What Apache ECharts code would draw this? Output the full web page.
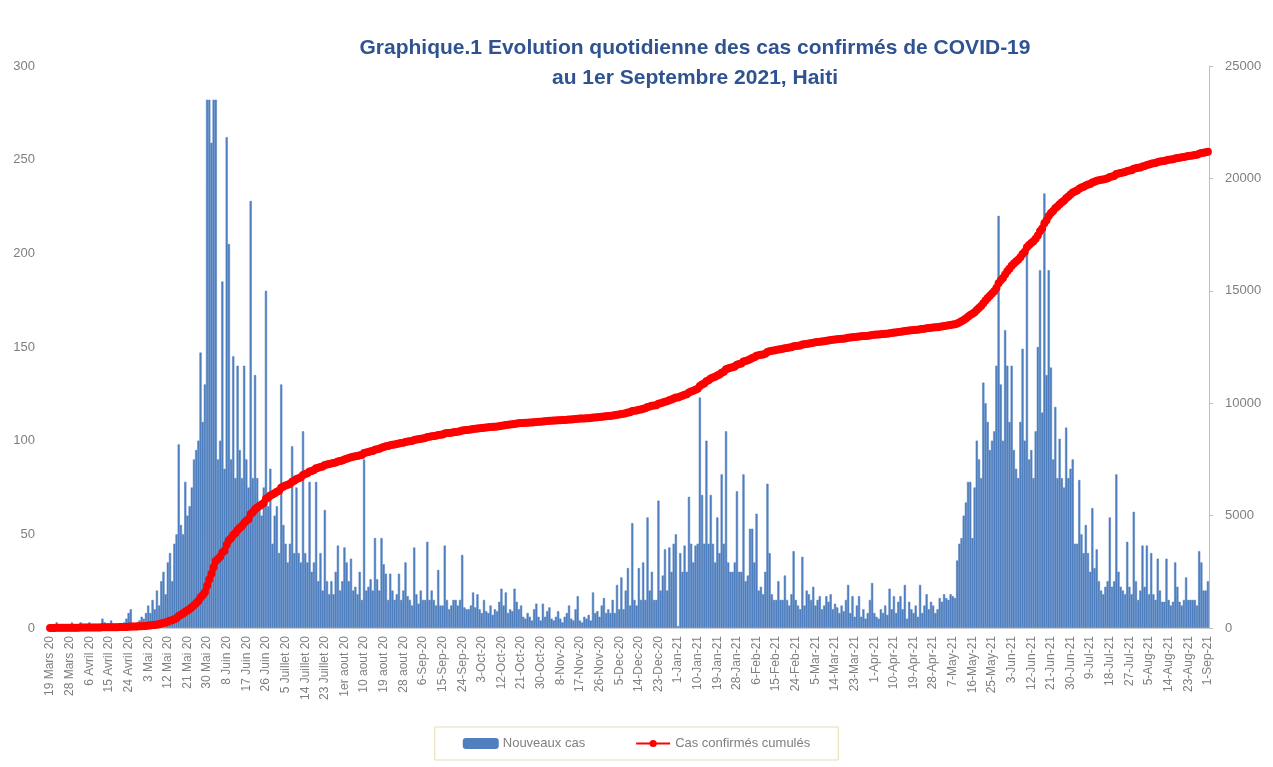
<!DOCTYPE html>
<html><head><meta charset="utf-8">
<script src="https://cdn.jsdelivr.net/npm/echarts@6/dist/echarts.min.js"></script>
<style>html,body{margin:0;padding:0;background:#fff}#c{width:1273px;height:767px}</style>
</head><body><div id="c"></div>
<script>
// Nouveaux cas (daily new confirmed cases), month by month
const mar20 = [2,0,1,3,0,1,0,1,0,0,3,2,2];
const apr20 = [0,3,0,1,0,3,0,0,1,2,0,5,3,0,0,4,1,0,0,2,0,3,5,8,10,0,2,3,4,6];
const may20 = [5,8,12,8,15,10,20,12,25,30,18,35,40,25,45,50,98,55,50,78,60,65,75,90,95,100,147,110,130,282,282];
const jun20 = [259,282,282,90,100,185,85,262,205,90,145,80,140,95,80,140,90,75,228,80,135,80,65,60,75,180,65,85,45,60];
const jul20 = [65,40,130,55,45,35,45,97,40,75,40,35,105,40,35,78,30,35,78,25,40,20,63,25,18,25,18,30,44,20,25];
const aug20 = [43,35,25,37,20,22,18,30,15,90,20,22,26,20,48,26,20,48,34,29,15,29,20,15,18,29,15,20,35,17,15];
const sep20 = [12,43,18,13,20,15,15,46,15,20,15,12,31,12,12,44,15,10,12,15,15,12,15,39,11,10,10,12,19,11];
const oct20 = [18,10,8,15,9,8,12,7,10,9,14,21,12,19,8,10,9,21,14,10,12,6,5,8,6,4,10,13,6,4,13];
const nov20 = [6,9,11,5,4,6,9,5,3,6,8,12,5,4,10,17,4,3,6,5,7,4,19,8,9,6,12,16,8,10];
const dec20 = [8,15,8,23,10,27,10,20,32,12,56,15,12,32,15,35,15,59,20,30,15,15,68,20,28,42,20,43,30,45,50];
const jan21 = [1,40,30,44,30,70,45,35,44,45,123,71,45,100,45,71,45,35,59,40,82,45,105,35,30,30,35,73,30,30,82];
const feb21 = [25,28,53,53,35,61,20,22,18,30,77,40,18,15,15,25,15,15,28,15,12,18,41,15,12,10,38,12];
const mar21 = [20,18,15,22,12,15,17,10,12,17,14,18,10,13,11,8,12,9,15,23,8,17,6,12,17,6,10,5,8,15,24];
const apr21 = [8,6,5,10,8,12,7,21,10,17,8,14,17,10,23,5,14,10,8,12,6,23,8,12,18,10,14,12,8,10];
const may21 = [16,14,18,16,15,18,17,16,36,45,48,60,67,78,78,48,75,100,90,80,131,120,110,95,100,105,140,220,130,100,159];
const jun21 = [140,110,140,95,85,80,110,149,100,204,90,95,80,105,150,191,115,232,135,191,139,90,118,80,101,80,75,107,80,85];
const jul21 = [90,45,45,79,50,40,55,40,30,64,32,42,25,20,18,22,25,59,22,25,82,30,22,20,18,46,22,18,62,25,15];
const aug21 = [20,44,22,44,18,40,18,15,37,20,14,14,37,15,12,14,35,22,14,12,15,27,15,15,15,15,12,41,35,20,20];
const sep21 = [25];

// x-axis tick labels (every 9th day)
const tickLabels = ['19 Mars 20','28 Mars 20','6 Avril 20','15 Avril 20','24 Avril 20','3 Mai 20','12 Mai 20','21 Mai 20','30 Mai 20','8 Juin 20','17 Juin 20','26 Juin 20','5 Juillet 20','14 Juillet 20','23 Juillet 20','1er aout 20','10 aout 20','19 aout 20','28 aout 20','6-Sep-20','15-Sep-20','24-Sep-20','3-Oct-20','12-Oct-20','21-Oct-20','30-Oct-20','8-Nov-20','17-Nov-20','26-Nov-20','5-Dec-20','14-Dec-20','23-Dec-20','1-Jan-21','10-Jan-21','19-Jan-21','28-Jan-21','6-Feb-21','15-Feb-21','24-Feb-21','5-Mar-21','14-Mar-21','23-Mar-21','1-Apr-21','10-Apr-21','19-Apr-21','28-Apr-21','7-May-21','16-May-21','25-May-21','3-Jun-21','12-Jun-21','21-Jun-21','30-Jun-21','9-Jul-21','18-Jul-21','27-Jul-21','5-Aug-21','14-Aug-21','23-Aug-21','1-Sep-21'];

const daily = [].concat(mar20,apr20,may20,jun20,jul20,aug20,sep20,oct20,nov20,dec20,jan21,feb21,mar21,apr21,may21,jun21,jul21,aug21,sep21);
const startDay = Date.UTC(2020,2,19);
const categories = daily.map((_, i) => new Date(startDay + i*86400000).toISOString().slice(0,10));
const cumulative = [];
let running = 0;
daily.forEach(v => { running += v; cumulative.push(running); });

const FONT = 'Liberation Sans';
const chart = echarts.init(document.getElementById('c'));
chart.setOption({
  animation: false,
  backgroundColor: '#ffffff',
  title: {
    text: 'Graphique.1 Evolution quotidienne des cas confirmés de COVID-19\nau 1er Septembre 2021, Haiti',
    left: 690, textAlign: 'center', top: 28,
    textStyle: {fontFamily: FONT, fontSize: 21, fontWeight: 'bold', color: '#2f5391', lineHeight: 30}
  },
  grid: {left: 49, right: 64, top: 66, bottom: 139},
  legend: {
    bottom: 7, left: 'center',
    padding: [10, 28], itemGap: 50, itemWidth: 34, itemHeight: 9,
    borderColor: '#e6ddb0', borderWidth: 1,
    textStyle: {fontFamily: FONT, fontSize: 13, color: '#7f7f7f'},
    data: ['Nouveaux cas', 'Cas confirmés cumulés']
  },
  xAxis: {
    type: 'category', data: categories,
    axisLine: {lineStyle: {color: '#d9d9d9'}},
    axisTick: {show: false},
    axisLabel: {
      interval: 8, rotate: 90, margin: 8,
      color: '#7f7f7f', fontFamily: FONT, fontSize: 12,
      formatter: (v, i) => (i % 9 === 0 ? tickLabels[i / 9] : '')
    }
  },
  yAxis: [
    {type: 'value', min: 0, max: 300, interval: 50,
     splitLine: {show: false}, axisLine: {show: false}, axisTick: {show: false},
     axisLabel: {color: '#7f7f7f', fontFamily: FONT, fontSize: 13, margin: 14}},
    {type: 'value', min: 0, max: 25000, interval: 5000, position: 'right',
     splitLine: {show: false},
     axisLine: {show: true, lineStyle: {color: '#bfbfbf'}},
     axisTick: {show: true, length: 4, lineStyle: {color: '#bfbfbf'}},
     axisLabel: {color: '#7f7f7f', fontFamily: FONT, fontSize: 13, margin: 16,
                 formatter: v => String(v)}}
  ],
  series: [
    {name: 'Nouveaux cas', type: 'bar', data: daily, barCategoryGap: '0%',
     itemStyle: {color: '#4f7fbf', borderColor: '#4f7fbf', borderWidth: 0.5}},
    {name: 'Cas confirmés cumulés', type: 'line', yAxisIndex: 1, data: cumulative,
     symbol: 'circle', symbolSize: 8, showAllSymbol: true,
     lineStyle: {color: '#ff0000', width: 6}, itemStyle: {color: '#ff0000'}}
  ]
});
</script></body></html>
